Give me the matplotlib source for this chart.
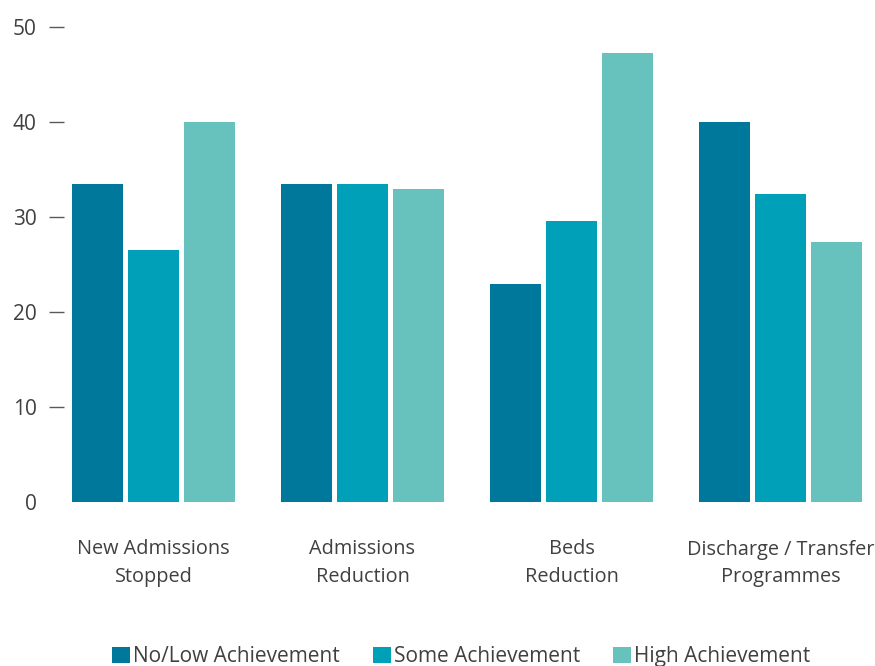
import numpy as np
import matplotlib.pyplot as plt

plt.rcParams['font.family'] = ['Open Sans', 'DejaVu Sans']

categories = ["New Admissions\nStopped", "Admissions\nReduction", "Beds\nReduction",
              "Discharge / Transfer\nProgrammes"]
series_names = ["No/Low Achievement", "Some Achievement", "High Achievement"]
no_low = [33.5, 33.5, 22.9, 40.0]
some = [26.5, 33.5, 29.6, 32.4]
high = [40.0, 32.9, 47.3, 27.4]
colors = ["#00789c", "#00a0b8", "#67c1bd"]
text_color = "#404040"

fig = plt.figure(figsize=(8.75, 6.66), dpi=100)
ax = fig.add_axes([64 / 875, 164 / 666, 806 / 875, 475 / 666])

x = np.arange(len(categories))
step = 0.268
width = 0.244
for i, (vals, name) in enumerate(zip([no_low, some, high], series_names)):
    ax.bar(x + (i - 1) * step, vals, width=width, color=colors[i], label=name)

ax.set_ylim(0, 50)
ax.set_xlim(-0.428, 3.428)
ax.set_yticks([0, 10, 20, 30, 40, 50])
ax.set_xticks(x)
ax.set_xticklabels(categories, fontsize=14.3, color=text_color, linespacing=1.5)
for s in ax.spines.values():
    s.set_visible(False)
ax.tick_params(axis='y', length=10.8, width=1.0, color="#595959", pad=9,
               labelsize=15, labelcolor=text_color)
ax.tick_params(axis='x', length=0, pad=27)
# no tick mark at 0
ax.yaxis.get_major_ticks()[0].tick1line.set_visible(False)

leg = fig.legend(loc='lower center', bbox_to_anchor=(0.527, -0.03), ncol=3, frameon=False,
                 fontsize=15, handlelength=0.85, handleheight=0.85, handletextpad=0.15,
                 columnspacing=1.6)
for t in leg.get_texts():
    t.set_color(text_color)

fig.savefig("out.png", dpi=100)
